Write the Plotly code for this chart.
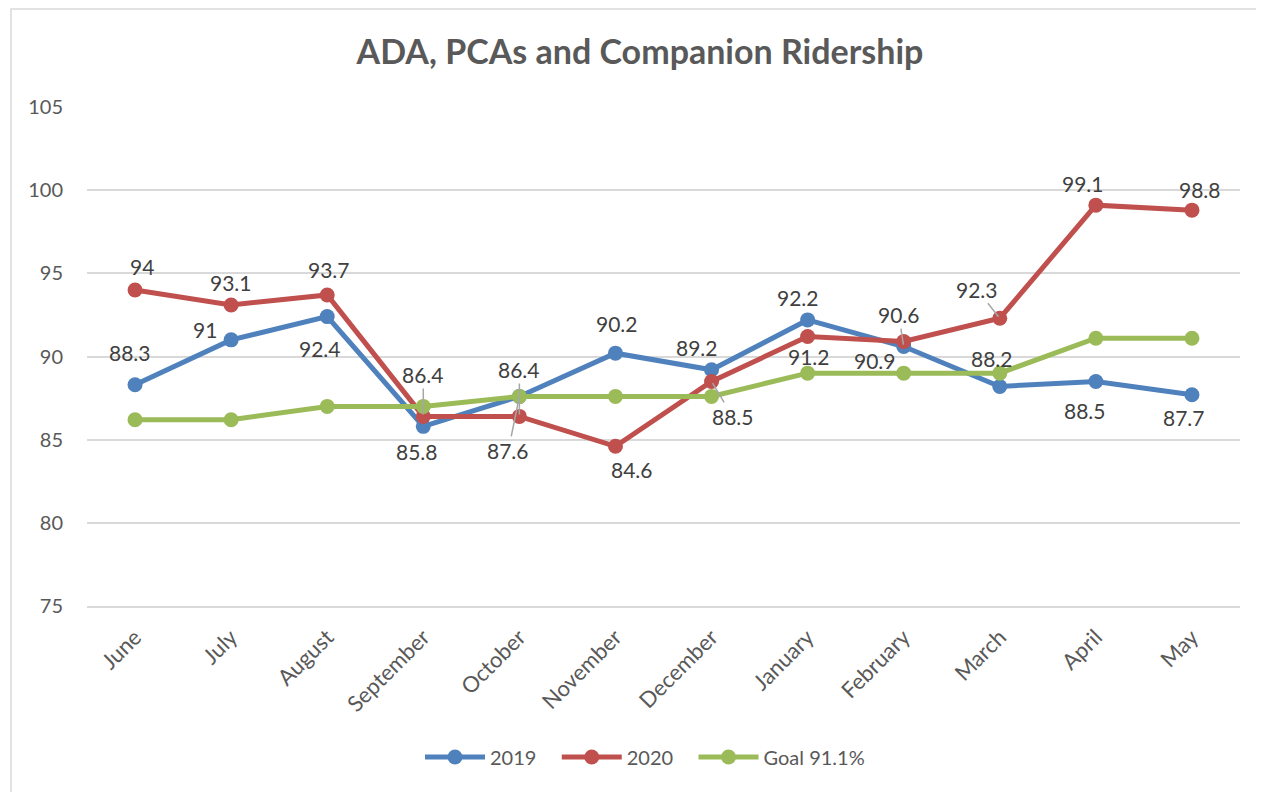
import plotly.graph_objects as go

months = ["June", "July", "August", "September", "October", "November",
          "December", "January", "February", "March", "April", "May"]
v2019 = [88.3, 91, 92.4, 85.8, 87.6, 90.2, 89.2, 92.2, 90.6, 88.2, 88.5, 87.7]
v2020 = [94, 93.1, 93.7, 86.4, 86.4, 84.6, 88.5, 91.2, 90.9, 92.3, 99.1, 98.8]
goal = [86.2, 86.2, 87, 87, 87.6, 87.6, 87.6, 89, 89, 89, 91.1, 91.1]
y_ticks = [75, 80, 85, 90, 95, 100, 105]
series_names = ["2019", "2020", "Goal 91.1%"]

# label offsets in pixels (dx, dy; dy positive = down) and leader-line flag
off2019 = [(-5, -32, 0), (-26, -10, 0), (-7, 32, 0), (-6, 25, 0), (-11, 54, 1), (2, -30, 0),
           (-15, -22, 0), (-10, -22, 0), (-5, -32, 1), (-8, -28, 0), (-11, 29, 0), (-8, 23, 0)]
off2020 = [(7, -23, 0), (0, -22, 0), (2, -25, 0), (0, -42, 1), (0, -47, 1), (17, 23, 0),
           (21, 35, 1), (1, 20, 0), (-29, 19, 0), (-23, -29, 1), (-13, -22, 0), (8, -21, 0)]

BLUE = "#4F81BD"
RED = "#C0504D"
GREEN = "#9BBB59"
FONT = "Lato"

# page body has 8px margin -> figure origin at (8, 8)
W, H = 1256, 784
OX, OY = 8, 8
PL, PR, PT, PB = 87, 1240, 107, 606  # plot area in page pixels

pad = "\u00a0\u00a0\u00a0"
fig = go.Figure()
for i, (name, vals, col) in enumerate(zip(series_names, [v2019, v2020, goal], [BLUE, RED, GREEN])):
    fig.add_trace(go.Scatter(
        x=months, y=vals, name=name + (pad if i < 2 else ""), mode="lines+markers",
        line=dict(color=col, width=5),
        marker=dict(color=col, size=15),
    ))

annotations = []
for vals, offs in [(v2019, off2019), (v2020, off2020)]:
    for m, v, (dx, dy, lead) in zip(months, vals, offs):
        txt = f"{v:g}"
        if lead:
            annotations.append(dict(
                x=m, y=v, xref="x", yref="y", text=txt, showarrow=True,
                ax=dx, ay=dy, arrowhead=0, arrowwidth=1.5, arrowcolor="#A6A6A6",
                standoff=2, font=dict(family=FONT, size=21, color="#404040"),
            ))
        else:
            annotations.append(dict(
                x=m, y=v, xref="x", yref="y", text=txt, showarrow=False,
                xshift=dx, yshift=-dy, font=dict(family=FONT, size=21, color="#404040"),
            ))

pw = PR - PL
ph = PB - PT
fig.update_layout(
    width=W, height=H,
    margin=dict(l=PL - OX, r=W - (PR - OX), t=PT - OY, b=H - (PB - OY)),
    paper_bgcolor="white", plot_bgcolor="white",
    font=dict(family=FONT, color="#595959"),
    title=dict(text="<b>ADA, PCAs and Companion Ridership</b>",
               x=(640 - OX) / W, xref="container", xanchor="center",
               y=1 - (52 - OY) / H, yref="container", yanchor="middle",
               font=dict(family=FONT, size=34, color="#595959")),
    xaxis=dict(
        tickangle=-45, tickfont=dict(family=FONT, size=22, color="#595959"),
        showgrid=False, showline=True, linecolor="#D9D9D9", linewidth=1.5,
        ticks="", range=[-0.5, 11.5], ticklabelstandoff=8,
    ),
    yaxis=dict(
        range=[75, 105], tickvals=y_ticks, ticks="",
        tickfont=dict(family=FONT, size=20, color="#595959"),
        showgrid=True, gridcolor="#D9D9D9", gridwidth=1.5,
        zeroline=False, showline=False, ticklabelstandoff=23,
    ),
    legend=dict(
        orientation="h", x=(645 - PL) / pw, xanchor="center",
        y=(PB - 757) / ph, yanchor="middle",
        font=dict(family=FONT, size=20, color="#595959"),
        itemwidth=60, traceorder="normal",
    ),
    annotations=annotations,
    shapes=[dict(type="rect", xref="paper", yref="paper",
                 x0=(11 - PL) / pw, x1=(1275 - PL) / pw,
                 y0=(PB - 800) / ph, y1=(PB - 9) / ph,
                 line=dict(color="#D9D9D9", width=1.5), fillcolor="rgba(0,0,0,0)",
                 layer="below")],
)

fig.write_html("out.html")
